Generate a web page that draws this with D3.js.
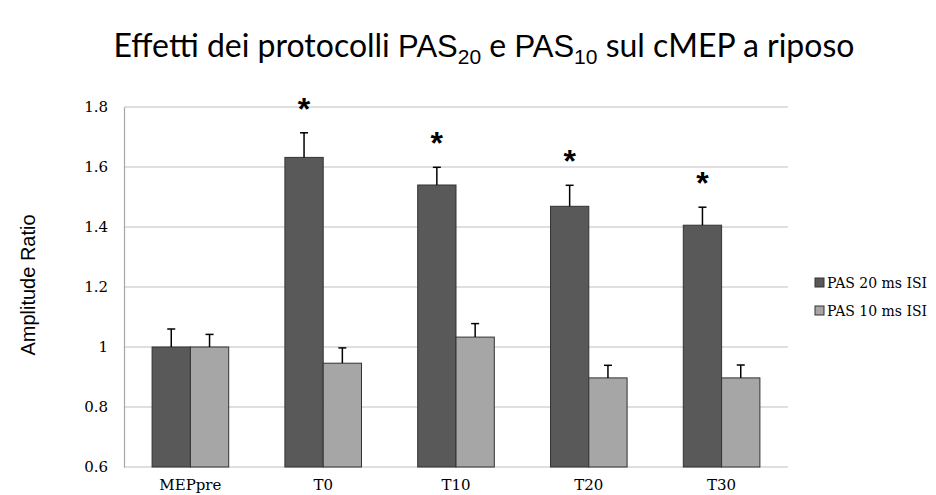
<!DOCTYPE html>
<html>
<head>
<meta charset="utf-8">
<script src="https://cdn.jsdelivr.net/npm/d3@7"></script>
<style>
  html, body { margin: 0; padding: 0; background: #fff; }
  svg { display: block; }
</style>
</head>
<body>
<svg id="chart" width="936" height="495"></svg>
<script>
// Time points and the two PAS protocols
const categories = ["MEPpre", "T0", "T10", "T20", "T30"];
const seriesNames = ["PAS 20 ms ISI", "PAS 10 ms ISI"];
const pas20 = [1.0, 1.632, 1.54, 1.469, 1.406];
const pas20Err = [0.06, 0.082, 0.059, 0.07, 0.06];
const pas10 = [1.0, 0.946, 1.033, 0.897, 0.897];
const pas10Err = [0.042, 0.051, 0.045, 0.042, 0.043];
// significance markers on the PAS 20 series
const pas20Significant = [false, true, true, true, true];
const yTicks = [0.6, 0.8, 1.0, 1.2, 1.4, 1.6, 1.8];
const yTickLabels = ["0.6", "0.8", "1", "1.2", "1.4", "1.6", "1.8"];

const colors = ["#595959", "#a6a6a6"];
const barStroke = "#333333";
const serif = "'DejaVu Serif', 'Liberation Serif', serif";

const svg = d3.select("#chart");
const plot = { left: 124, right: 788, top: 107, bottom: 467 };

const y = d3.scaleLinear().domain([0.6, 1.8]).range([plot.bottom, plot.top]);
const x0 = d3.scaleBand().domain(categories).range([plot.left, plot.right])
  .paddingInner(0.4232).paddingOuter(0.2116);
const x1 = d3.scaleBand().domain(seriesNames).range([0, x0.bandwidth()]);

const rows = categories.map((c, i) => ({
  cat: c,
  bars: [
    { s: seriesNames[0], v: pas20[i], e: pas20Err[i], sig: pas20Significant[i], k: 0 },
    { s: seriesNames[1], v: pas10[i], e: pas10Err[i], sig: false, k: 1 }
  ]
}));

// Title (mixed fonts with subscripts)
const title = svg.append("text")
  .attr("x", 484).attr("y", 57)
  .attr("text-anchor", "middle")
  .style("font-family", "Lato, 'Open Sans', sans-serif")
  .style("font-size", "32px")
  .attr("fill", "#000");
const titleParts = [
  { t: "Effetti dei protocolli ", f: null },
  { t: "PAS", f: "arial" },
  { t: "20", f: "sub" },
  { t: " e ", f: "back" },
  { t: "PAS", f: "arial" },
  { t: "10", f: "sub" },
  { t: " sul cMEP a riposo", f: "back" }
];
titleParts.forEach(p => {
  const ts = title.append("tspan").text(p.t);
  if (p.f === "arial") {
    ts.style("font-family", "'Liberation Sans', Arial, sans-serif").style("font-size", "31px");
  } else if (p.f === "sub") {
    ts.style("font-family", "'Liberation Sans', Arial, sans-serif").style("font-size", "21px")
      .attr("dy", 7);
  } else if (p.f === "back") {
    ts.attr("dy", -7);
  }
});

// Gridlines
svg.append("g").selectAll("line").data(yTicks).join("line")
  .attr("x1", plot.left).attr("x2", plot.right)
  .attr("y1", d => y(d)).attr("y2", d => y(d))
  .attr("stroke", "#bfbfbf").attr("stroke-width", 1.2);

// Y axis
const yAxis = d3.axisLeft(y).tickValues(yTicks)
  .tickFormat((d, i) => yTickLabels[i]).tickSize(0).tickPadding(16);
const yg = svg.append("g").attr("transform", `translate(${plot.left},0)`).call(yAxis);
yg.select(".domain").attr("stroke", "#a6a6a6").attr("stroke-width", 1.2);
yg.selectAll("text").style("font-family", serif).style("font-size", "15px").attr("fill", "#000");

// X axis labels
const xAxis = d3.axisBottom(x0).tickSize(0).tickPadding(12);
const xg = svg.append("g").attr("transform", `translate(0,${plot.bottom})`).call(xAxis);
xg.select(".domain").remove();
xg.selectAll("text").style("font-family", serif).style("font-size", "15px").attr("fill", "#000");

// Bars
const groups = svg.append("g").selectAll("g").data(rows).join("g")
  .attr("transform", d => `translate(${x0(d.cat)},0)`);

groups.selectAll("rect").data(d => d.bars).join("rect")
  .attr("x", d => x1(d.s))
  .attr("y", d => y(d.v))
  .attr("width", x1.bandwidth())
  .attr("height", d => y(0.6) - y(d.v))
  .attr("fill", d => colors[d.k])
  .attr("stroke", barStroke).attr("stroke-width", 1);

// Error bars (upper only)
const capHalf = 4;
groups.selectAll("g.err").data(d => d.bars).join("g").attr("class", "err")
  .each(function (d) {
    const g = d3.select(this);
    const cx = x1(d.s) + x1.bandwidth() / 2;
    g.append("line").attr("x1", cx).attr("x2", cx)
      .attr("y1", y(d.v)).attr("y2", y(d.v + d.e))
      .attr("stroke", "#000").attr("stroke-width", 1.5);
    g.append("line").attr("x1", cx - capHalf).attr("x2", cx + capHalf)
      .attr("y1", y(d.v + d.e)).attr("y2", y(d.v + d.e))
      .attr("stroke", "#000").attr("stroke-width", 1.5);
  });

// Significance asterisks
groups.selectAll("text.sig").data(d => d.bars.filter(b => b.sig)).join("text")
  .attr("class", "sig")
  .attr("x", d => x1(d.s) + x1.bandwidth() / 2)
  .attr("y", d => y(d.v + d.e) - 13)
  .attr("text-anchor", "middle")
  .style("font-family", "'Liberation Sans', Arial, sans-serif")
  .style("font-weight", "bold")
  .style("font-size", "32px")
  .text("*");

// Y axis title
svg.append("text")
  .attr("transform", "translate(35,285) rotate(-90)")
  .attr("text-anchor", "middle")
  .style("font-family", "'Liberation Sans', Arial, sans-serif")
  .style("font-size", "20px")
  .text("Amplitude Ratio");

// Legend
const legend = svg.append("g").attr("transform", "translate(815,278)");
const li = legend.selectAll("g").data(seriesNames).join("g")
  .attr("transform", (d, i) => `translate(0,${i * 28})`);
li.append("rect").attr("width", 9).attr("height", 9)
  .attr("fill", (d, i) => colors[i]).attr("stroke", barStroke).attr("stroke-width", 1);
li.append("text").attr("x", 12).attr("y", 10)
  .style("font-family", serif).style("font-size", "14px")
  .text(d => d);
</script>
</body>
</html>
